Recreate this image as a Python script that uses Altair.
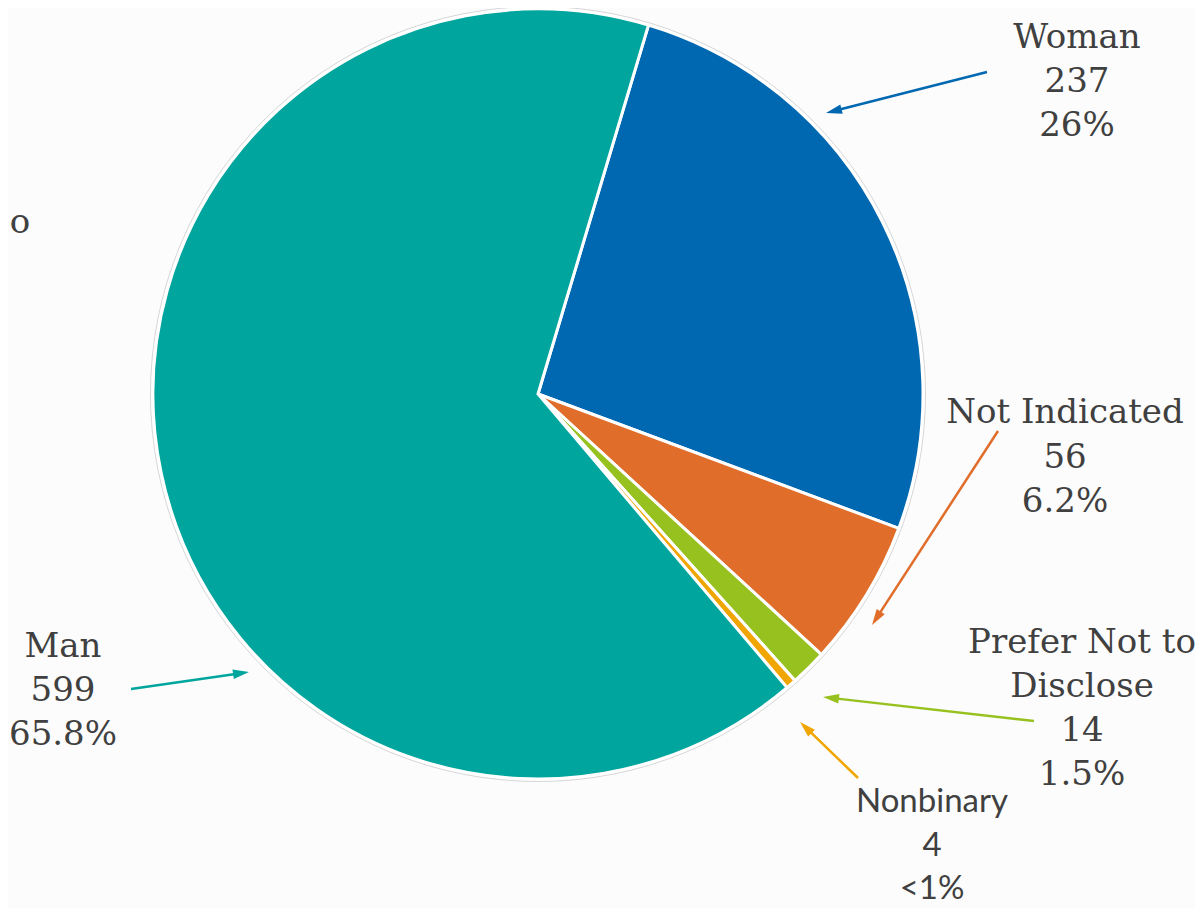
import math
import altair as alt
import numpy as np
import pandas as pd

# ---- data ----
categories = ["Woman", "Not Indicated", "Prefer Not to Disclose", "Nonbinary", "Man"]
counts = [237, 56, 14, 4, 599]
pct_labels = ["26%", "6.2%", "1.5%", "<1%", "65.8%"]
name_lines = [["Woman"], ["Not Indicated"], ["Prefer Not to", "Disclose"], ["Nonbinary"], ["Man"]]
slice_colors = ["#0068B1", "#E06D2A", "#97C11F", "#F0A500", "#00A59D"]
arrow_colors = ["#1C6DB4", "#E07838", "#8CD056", "#EBA810", "#13A49C"]
label_fonts = ["serif", "serif", "serif", "sans", "serif"]

# ---- layout (chart pixel space) ----
W, H = 1187, 900
CX, CY, R = 530, 386, 385
START = 0.291  # radians, clockwise from 12 o'clock
label_x = [1069, 1057, 1074, 924, 55]
label_base0 = [39.5, 415, 645, 804, 649]
line_h = [44, 44.5, 44, 43.5, 44]
arrow_tail = [(979, 64), (990, 423), (1026, 713), (850, 770), (123, 681)]
arrow_tip = [(818, 105), (864, 617), (815, 689), (792, 714), (241, 664)]

TEXT_COLOR = "#404040"
SERIF = "DejaVu Serif"
SANS = "Lato"

pie_df = pd.DataFrame({"category": categories, "count": counts, "idx": list(range(len(categories)))})

# text rows
rows = []
for i, cat in enumerate(categories):
    lines = name_lines[i] + [str(counts[i]), pct_labels[i]]
    for j, t in enumerate(lines):
        rows.append({"x": label_x[i], "y": label_base0[i] + j * line_h[i], "text": t, "font": label_fonts[i]})
rows.append({"x": 12, "y": 225, "text": "o", "font": "serif"})
text_df = pd.DataFrame(rows)

# arrows
arr = []
heads = []
for i, cat in enumerate(categories):
    (x0, y0), (x1, y1) = arrow_tail[i], arrow_tip[i]
    dx, dy = x1 - x0, y1 - y0
    L = math.hypot(dx, dy)
    ux, uy = dx / L, dy / L
    ang = math.degrees(math.atan2(dx, -dy)) % 360
    arr.append({"x": x0, "y": y0, "x2": x1 - ux * 10, "y2": y1 - uy * 10, "cat": cat})
    heads.append({"x": x1 - ux * 8, "y": y1 - uy * 8, "angle": ang, "cat": cat})
arr_df = pd.DataFrame(arr)
head_df = pd.DataFrame(heads)

xs = alt.Scale(domain=[0, W], nice=False, zero=False)
ys = alt.Scale(domain=[0, H], nice=False, zero=False, reverse=True)
acol = alt.Scale(domain=categories, range=arrow_colors)

outline = alt.Chart(pd.DataFrame({"a": [1]})).mark_arc(
    theta=0, theta2=2 * math.pi, radius=R + 2.5, fill="#FFFFFF", stroke="#D6D6D6", strokeWidth=1
).encode(x=alt.value(CX), y=alt.value(CY))

pie = alt.Chart(pie_df).mark_arc(radius=R, stroke="#FFFFFF", strokeWidth=3).encode(
    x=alt.value(CX),
    y=alt.value(CY),
    theta=alt.Theta("count:Q", stack=True, scale=alt.Scale(range=[START, START + 2 * math.pi])),
    order=alt.Order("idx:Q"),
    color=alt.Color("category:N", scale=alt.Scale(domain=categories, range=slice_colors), legend=None),
)

rules = alt.Chart(arr_df).mark_rule(strokeWidth=2.5).encode(
    x=alt.X("x:Q", scale=xs, axis=None),
    y=alt.Y("y:Q", scale=ys, axis=None),
    x2="x2:Q",
    y2="y2:Q",
    color=alt.Color("cat:N", scale=acol, legend=None),
)

arrowheads = alt.Chart(head_df).mark_point(
    shape="M0,-1L0.6,1L-0.6,1Z", filled=True, size=256, opacity=1
).encode(
    x=alt.X("x:Q", scale=xs, axis=None),
    y=alt.Y("y:Q", scale=ys, axis=None),
    angle=alt.Angle("angle:Q", scale=None),
    color=alt.Color("cat:N", scale=acol, legend=None),
)

serif_text = alt.Chart(text_df).transform_filter(alt.datum.font == "serif").mark_text(
    font=SERIF, fontSize=34, color=TEXT_COLOR, align="center", baseline="alphabetic"
).encode(
    x=alt.X("x:Q", scale=xs, axis=None),
    y=alt.Y("y:Q", scale=ys, axis=None),
    text="text:N",
)

sans_text = alt.Chart(text_df).transform_filter(alt.datum.font == "sans").mark_text(
    font=SANS, fontSize=33, color=TEXT_COLOR, align="center", baseline="alphabetic"
).encode(
    x=alt.X("x:Q", scale=xs, axis=None),
    y=alt.Y("y:Q", scale=ys, axis=None),
    text="text:N",
)

chart = alt.layer(outline, pie, rules, arrowheads, serif_text, sans_text).properties(
    width=W, height=H, autosize="none", padding=0, background="#FCFCFC"
).configure_view(stroke=None)

chart.save("out.html", embed_options={"renderer": "svg", "actions": False})
